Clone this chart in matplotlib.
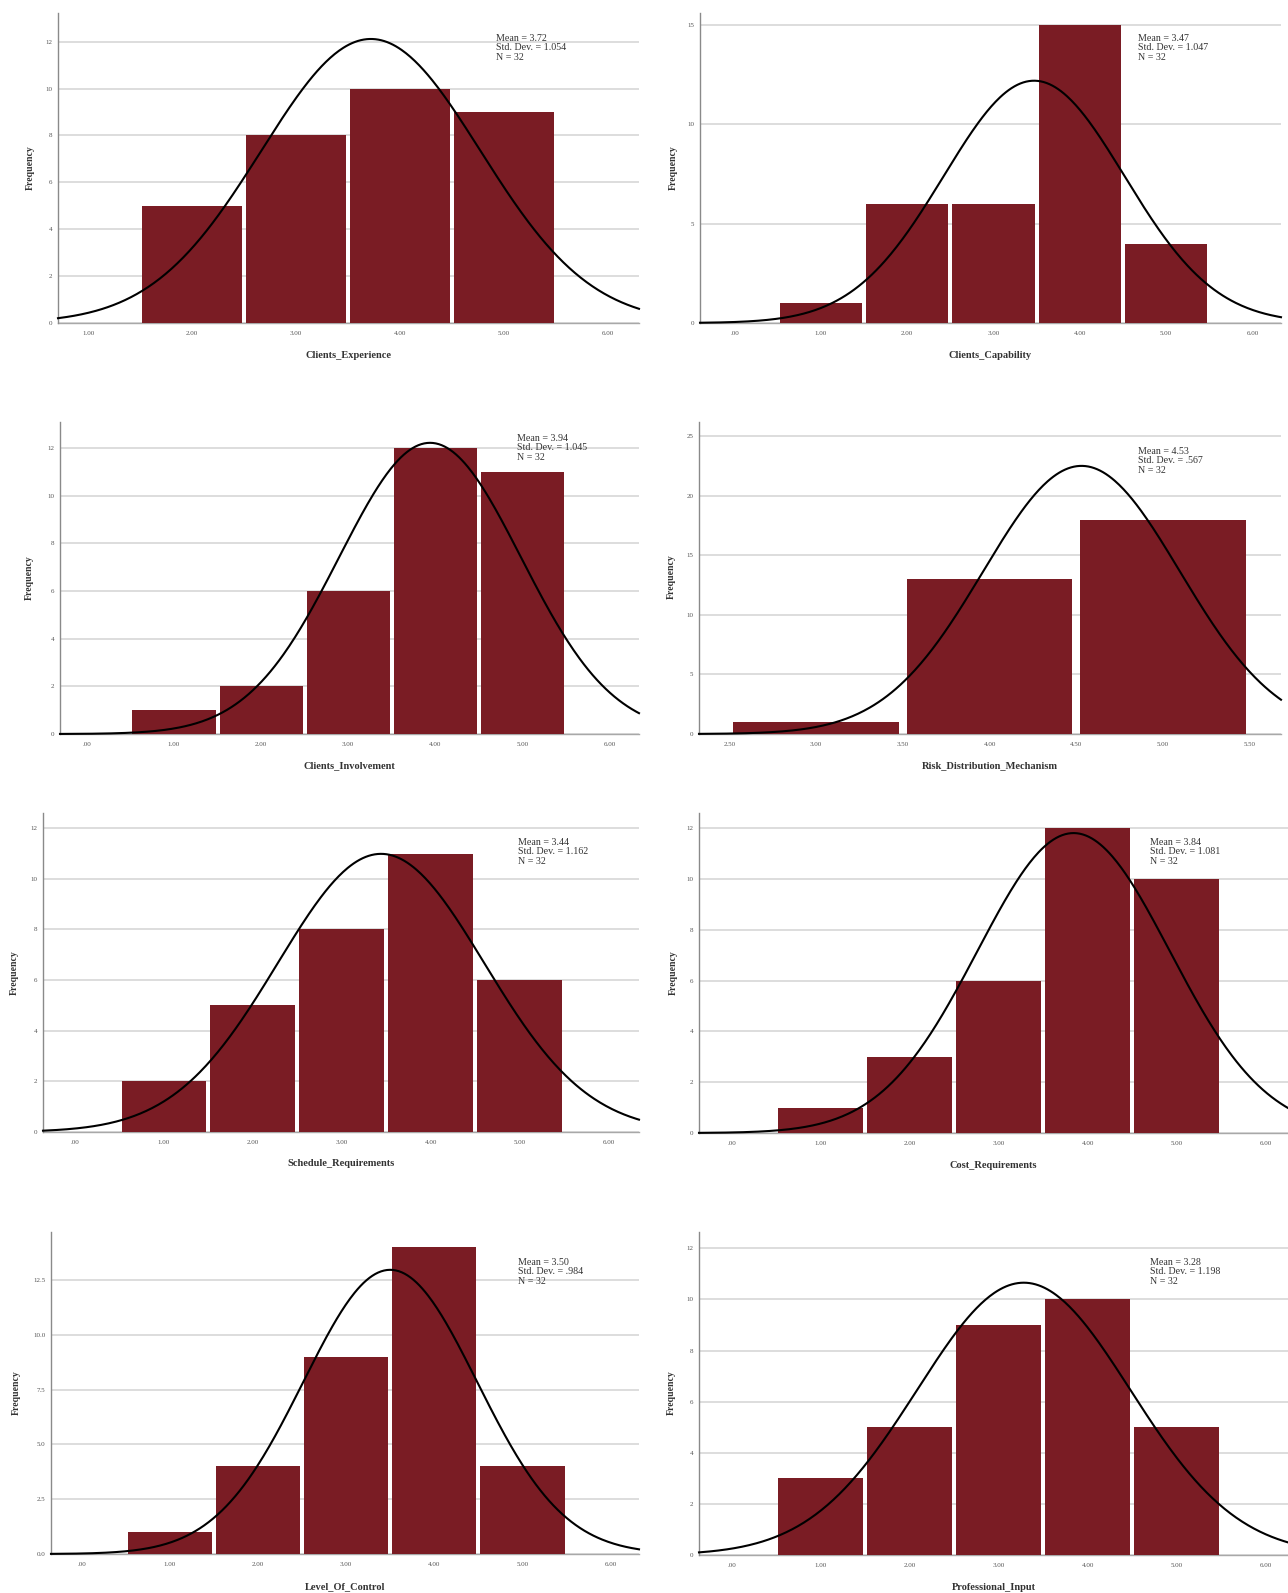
import numpy as np
import matplotlib
matplotlib.use("Agg")
import matplotlib.pyplot as plt

# ---------------- data ----------------
titles = ["Clients_Experience", "Clients_Capability", "Clients_Involvement",
          "Risk_Distribution_Mechanism", "Schedule_Requirements", "Cost_Requirements",
          "Level_Of_Control", "Professional_Input"]

clients_experience_values = [2, 3, 4, 5]
clients_experience_counts = [5, 8, 10, 9]
clients_capability_values = [1, 2, 3, 4, 5]
clients_capability_counts = [1, 6, 6, 15, 4]
clients_involvement_values = [1, 2, 3, 4, 5]
clients_involvement_counts = [1, 2, 6, 12, 11]
risk_distribution_values = [3, 4, 5]
risk_distribution_counts = [1, 13, 18]
schedule_requirements_values = [1, 2, 3, 4, 5]
schedule_requirements_counts = [2, 5, 8, 11, 6]
cost_requirements_values = [1, 2, 3, 4, 5]
cost_requirements_counts = [1, 3, 6, 12, 10]
level_of_control_values = [1, 2, 3, 4, 5]
level_of_control_counts = [1, 4, 9, 14, 4]
professional_input_values = [1, 2, 3, 4, 5]
professional_input_counts = [3, 5, 9, 10, 5]

means = [3.72, 3.47, 3.94, 4.53, 3.44, 3.84, 3.50, 3.28]
std_devs = [1.054, 1.047, 1.045, 0.567, 1.162, 1.081, 0.984, 1.198]
mean_labels = ["3.72", "3.47", "3.94", "4.53", "3.44", "3.84", "3.50", "3.28"]
sd_labels = ["1.054", "1.047", "1.045", ".567", "1.162", "1.081", ".984", "1.198"]
n_obs = [32, 32, 32, 32, 32, 32, 32, 32]

xtick_vals_std = [0, 1, 2, 3, 4, 5, 6]
xtick_labels_std = [".00", "1.00", "2.00", "3.00", "4.00", "5.00", "6.00"]
xtick_vals_p1 = [1, 2, 3, 4, 5, 6]
xtick_labels_p1 = ["1.00", "2.00", "3.00", "4.00", "5.00", "6.00"]
xtick_vals_p4 = [2.5, 3.0, 3.5, 4.0, 4.5, 5.0, 5.5]
xtick_labels_p4 = ["2.50", "3.00", "3.50", "4.00", "4.50", "5.00", "5.50"]

ytick_vals_12 = [0, 2, 4, 6, 8, 10, 12]
ytick_labels_12 = ["0", "2", "4", "6", "8", "10", "12"]
ytick_vals_15 = [0, 5, 10, 15]
ytick_labels_15 = ["0", "5", "10", "15"]
ytick_vals_25 = [0, 5, 10, 15, 20, 25]
ytick_labels_25 = ["0", "5", "10", "15", "20", "25"]
ytick_vals_125 = [0, 2.5, 5.0, 7.5, 10.0, 12.5]
ytick_labels_125 = ["0.0", "2.5", "5.0", "7.5", "10.0", "12.5"]

values = [clients_experience_values, clients_capability_values, clients_involvement_values,
          risk_distribution_values, schedule_requirements_values, cost_requirements_values,
          level_of_control_values, professional_input_values]
counts = [clients_experience_counts, clients_capability_counts, clients_involvement_counts,
          risk_distribution_counts, schedule_requirements_counts, cost_requirements_counts,
          level_of_control_counts, professional_input_counts]
xticks = [(xtick_vals_p1, xtick_labels_p1), (xtick_vals_std, xtick_labels_std),
          (xtick_vals_std, xtick_labels_std), (xtick_vals_p4, xtick_labels_p4),
          (xtick_vals_std, xtick_labels_std), (xtick_vals_std, xtick_labels_std),
          (xtick_vals_std, xtick_labels_std), (xtick_vals_std, xtick_labels_std)]
yticks = [(ytick_vals_12, ytick_labels_12), (ytick_vals_15, ytick_labels_15),
          (ytick_vals_12, ytick_labels_12), (ytick_vals_25, ytick_labels_25),
          (ytick_vals_12, ytick_labels_12), (ytick_vals_12, ytick_labels_12),
          (ytick_vals_125, ytick_labels_125), (ytick_vals_12, ytick_labels_12)]

# ---------------- layout (pixels) ----------------
W, H = 1288, 1593
# left, right, top, bottom
boxes = [(58, 639, 13, 323), (700, 1281, 13, 323),
         (60, 639, 422, 734), (699, 1281, 422, 734),
         (43, 639, 813, 1132), (699, 1288, 813, 1133),
         (51, 639, 1232, 1554), (699, 1288, 1232, 1555)]
xlims = [(0.71, 6.30), (-0.40, 6.33), (-0.31, 6.34), (2.325, 5.68),
         (-0.36, 6.34), (-0.37, 6.25), (-0.345, 6.32), (-0.37, 6.25)]
ylims = [13.22, 15.6, 13.09, 26.2, 12.6, 12.6, 14.7, 12.64]
stat_pos = [(496, 34), (1138, 34), (517, 434), (1138, 447),
            (518, 838), (1150, 838), (518, 1258), (1150, 1258)]
ylab_pos = [(30, 168), (673, 168), (29, 578), (671, 577),
            (14, 973), (673, 973), (16, 1393), (671, 1393)]
xlab_y = [355, 355, 766, 766, 1164, 1165, 1587, 1587]

BAR = "#7a1c24"
GRID = "#dadada"
SERIF = ["Liberation Serif", "DejaVu Serif"]

fig = plt.figure(figsize=(W / 100, H / 100), dpi=100)
fig.patch.set_facecolor("white")

for i in range(8):
    l, r, t, b = boxes[i]
    ax = fig.add_axes([l / W, 1 - b / H, (r - l) / W, (b - t) / H])
    ax.set_facecolor("white")
    ax.set_xlim(*xlims[i])
    ax.set_ylim(0, ylims[i])
    for yv in yticks[i][0]:
        ax.axhline(yv, color=GRID, lw=1.3, zorder=0)
    ax.bar(values[i], counts[i], width=0.955, color=BAR, edgecolor="none", zorder=2)
    xs = np.linspace(xlims[i][0], xlims[i][1], 400)
    pdf = n_obs[i] * 1.0 / (std_devs[i] * np.sqrt(2 * np.pi)) * \
        np.exp(-0.5 * ((xs - means[i]) / std_devs[i]) ** 2)
    ax.plot(xs, pdf, color="black", lw=1.5, zorder=3, clip_on=False)

    ax.set_xticks(xticks[i][0])
    ax.set_xticklabels(xticks[i][1], fontfamily=SERIF, fontsize=5, color="#555555")
    ax.set_yticks(yticks[i][0])
    ax.set_yticklabels(yticks[i][1], fontfamily=SERIF, fontsize=5, color="#555555")
    ax.tick_params(axis="x", length=0, pad=6)
    ax.tick_params(axis="y", length=0, pad=4)
    for s in ["top", "right"]:
        ax.spines[s].set_visible(False)
    ax.spines["left"].set_color("#8a8a8a")
    ax.spines["left"].set_linewidth(1.0)
    ax.spines["bottom"].set_color("#a8a8a8")
    ax.spines["bottom"].set_linewidth(1.0)
    ax.spines["bottom"].set_zorder(1)

    sx, sy = stat_pos[i]
    fig.text(sx / W, 1 - sy / H,
             "Mean = %s\nStd. Dev. = %s\nN = %d" % (mean_labels[i], sd_labels[i], n_obs[i]),
             fontfamily=SERIF, fontsize=7.2, color="#333333", va="top", ha="left",
             linespacing=1.05)
    yx, yy = ylab_pos[i]
    fig.text(yx / W, 1 - yy / H, "Frequency", rotation=90, fontfamily=SERIF,
             fontsize=7, fontweight="bold", color="#333333", ha="center", va="center")
    fig.text(((l + r) / 2) / W, 1 - xlab_y[i] / H, titles[i], fontfamily=SERIF,
             fontsize=7.5, fontweight="bold", color="#333333", ha="center", va="center")

fig.savefig("out.png", dpi=100, facecolor="white")
